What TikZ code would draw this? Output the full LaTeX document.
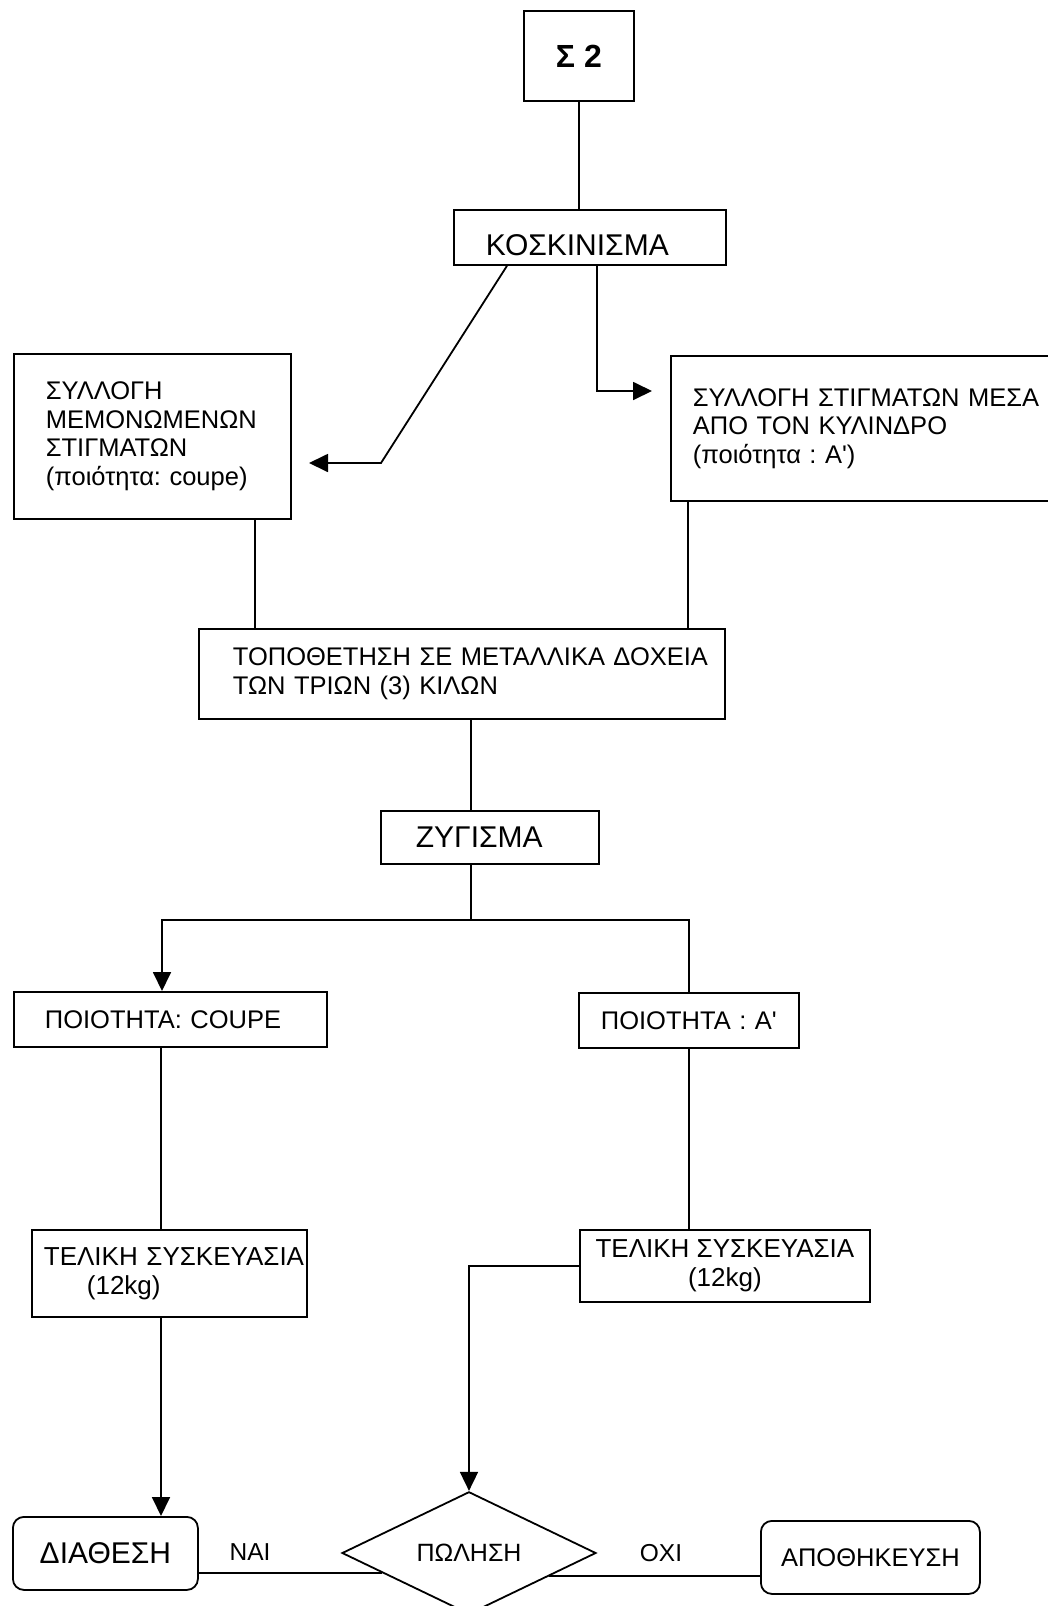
\documentclass[tikz,border=0pt]{standalone}
\usepackage{fontspec}
\setmainfont{Liberation Sans}
\usetikzlibrary{arrows.meta,calc,shapes.geometric}
\frenchspacing

\begin{document}
\begin{tikzpicture}[x=1pt,y=-1pt,line width=1.8pt,
  box/.style={draw,rectangle,anchor=north west,inner ysep=0pt,font=\fontsize{25.5}{28.5}\selectfont},
  lbox/.style={box,align=left},
  cbox/.style={box,align=center,inner xsep=0pt},
  rbox/.style={cbox,rounded corners=11pt},
  arr/.style={-{Triangle[length=19pt,width=18pt]}},
  lbl/.style={inner sep=0pt,font=\fontsize{24.5}{28}\selectfont}]
\useasboundingbox (0,0) rectangle (1047,1606);
\node[cbox,minimum width=110pt,minimum height=90pt,font=\bfseries\fontsize{32}{36}\selectfont] (s2) at (523,10) {Σ 2};
\node[lbox,text width=208pt,inner xsep=32pt,minimum height=55pt,text height=36pt,font=\fontsize{30}{34}\selectfont] (kosk) at (453,209) {ΚΟΣΚΙΝΙΣΜΑ};
\node[lbox,text width=213pt,inner xsep=32pt,minimum height=165pt] (sylm) at (13,353) {ΣΥΛΛΟΓΗ\\ΜΕΜΟΝΩΜΕΝΩΝ\\ΣΤΙΓΜΑΤΩΝ\\(ποιότητα: coupe)};
\node[lbox,text width=356pt,inner xsep=22pt,minimum height=145pt] (sylk) at (670,355) {ΣΥΛΛΟΓΗ~ΣΤΙΓΜΑΤΩΝ~ΜΕΣΑ\\ΑΠΟ ΤΟΝ ΚΥΛΙΝΔΡΟ\\(ποιότητα : Α\textquotesingle)};
\node[lbox,text width=458pt,inner xsep=34pt,minimum height=90pt] (topo) at (198,628) {ΤΟΠΟΘΕΤΗΣΗ~ΣΕ~ΜΕΤΑΛΛΙΚΑ~ΔΟΧΕΙΑ\\ΤΩΝ ΤΡΙΩΝ (3) ΚΙΛΩΝ};
\node[lbox,text width=148pt,inner xsep=35pt,minimum height=53pt,font=\fontsize{30}{34}\selectfont] (zyg) at (380,810) {ΖΥΓΙΣΜΑ};
\node[lbox,text width=251pt,inner xsep=31pt,minimum height=55pt] (pcoupe) at (13,991) {ΠΟΙΟΤΗΤΑ: COUPE};
\node[lbox,text width=176pt,inner xsep=22pt,minimum height=55pt] (pa) at (578,992) {ΠΟΙΟΤΗΤΑ~:~Α\textquotesingle};
\node[lbox,text width=251pt,inner xsep=12pt,minimum height=87pt,font=\fontsize{26}{29}\selectfont] (telL) at (31,1229) {ΤΕΛΙΚΗ~ΣΥΣΚΕΥΑΣΙΑ\\\hspace*{43pt}(12kg)};
\node[cbox,minimum width=290pt,minimum height=72pt,font=\fontsize{26}{29}\selectfont] (telR) at (579,1229) {ΤΕΛΙΚΗ ΣΥΣΚΕΥΑΣΙΑ\\(12kg)};
\node[rbox,minimum width=185pt,minimum height=73pt,font=\fontsize{30}{34}\selectfont] (diath) at (12,1516) {ΔΙΑΘΕΣΗ};
\node[rbox,minimum width=219pt,minimum height=73pt] (apoth) at (760,1520) {ΑΠΟΘΗΚΕΥΣΗ};
\node[draw,diamond,minimum width=254pt,minimum height=104pt,inner sep=0pt,font=\fontsize{25}{28}\selectfont] (pwl) at (469,1553) {ΠΩΛΗΣΗ};
\node[lbl] (nai) at (250,1552) {ΝΑΙ};
\node[lbl] (oxi) at (661,1553) {ΟΧΙ};
\coordinate (bendl) at (381,463);
\coordinate (tipl) at (309,463);
\coordinate (tipr) at (652,391);
\coordinate (sl) at ($(sylm.south west)+(242,0)$);
\coordinate (sr) at ($(sylk.south west)+(18,0)$);
\coordinate (zt) at ($(zyg.north west)+(91,0)$);
\coordinate (split) at ($(zyg.south west)+(91,55)$);
\coordinate (cl) at ($(pcoupe.south west)+(148,0)$);
\draw (s2.south) -- (s2.south |- kosk.north);
\draw[arr] ($(kosk.south west)+(54,0)$) -- (bendl) -- (tipl);
\draw[arr] ($(kosk.south west)+(144,0)$) |- (tipr);
\draw (sl) -- (sl |- topo.north);
\draw (sr) -- (sr |- topo.north);
\draw (zt |- topo.south) -- (zt);
\draw (zt |- zyg.south) -- (split);
\draw[arr] (split) -| ($(pcoupe.north west)+(149,0)$);
\draw (split) -| (pa.north);
\draw (cl) -- (cl |- telL.north);
\draw (pa.south) -- (pa.south |- telR.north);
\draw[arr] (cl |- telL.south) -- (cl |- diath.north);
\draw[arr] (telR.west) -| (pwl.north);
\draw (pwl.193) -- (pwl.193 -| diath.east);
\draw (pwl.344) -- (pwl.344 -| apoth.west);
\end{tikzpicture}
\end{document}
